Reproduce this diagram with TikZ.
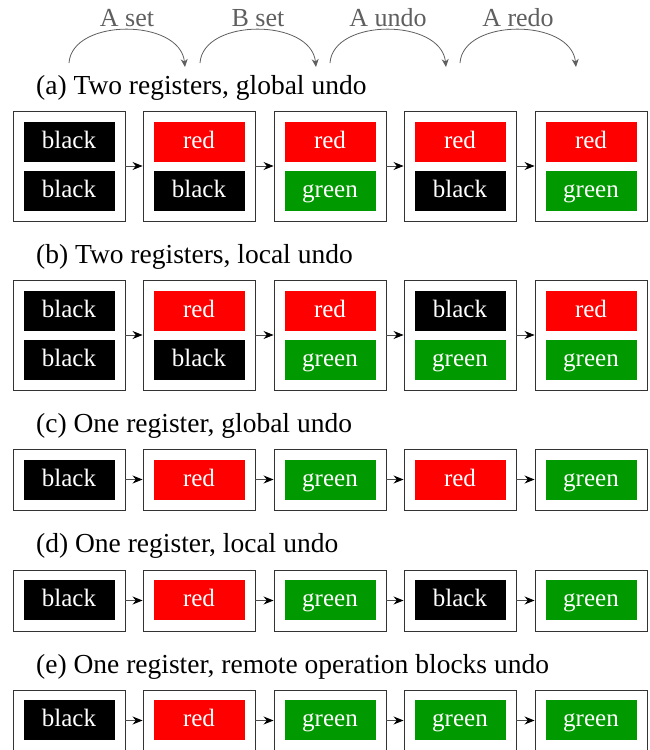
\documentclass[tikz,border=0pt]{standalone}
\usepackage{fontspec}
\setmainfont{Liberation Serif}
\usetikzlibrary{arrows.meta}
\definecolor{reggreen}{RGB}{0,153,0}
\definecolor{regred}{RGB}{255,0,0}
\definecolor{regblack}{RGB}{0,0,0}
\definecolor{capgray}{RGB}{95,95,95}
\begin{document}
\begin{tikzpicture}[x=1pt,y=-1pt,
  font=\fontsize{25}{30}\selectfont,
  outerbox/.style={draw=black!80, line width=0.9pt, minimum width=112pt, inner sep=0pt},
  reg/.style={fill=reg#1, text=white, minimum width=91pt, minimum height=40pt, inner sep=0pt, text height=17pt, text depth=5pt},
  link/.style={draw=black!70, line width=0.9pt, -{Stealth[length=10pt,width=8pt,color=black]}},
  op/.style={draw=capgray, line width=0.8pt, -{Stealth[length=8pt,width=7pt]}},
  oplabel/.style={text=capgray, anchor=base, inner sep=0pt, font=\fontsize{26}{30}\selectfont},
  caption/.style={anchor=base west, inner sep=0pt, font=\fontsize{27.5}{32}\selectfont}
]
\useasboundingbox (0,0) rectangle (649,750);

% operations on top
\foreach \i/\xs/\lab in {1/69/A set,2/200/B set,3/330/A undo,4/460/A redo}{
  \coordinate (s\i) at (\xs,63);
  \coordinate (t\i) at (\xs+116,67);
  \node[oplabel] (l\i) at (\xs+58,26) {\lab};
  \draw[op] (s\i) .. controls (\xs+3,18) and (\xs+111,18) .. (t\i);
}

% captions
\node[caption] (ca) at (36,94) {(a) Two registers, global undo};
\node[caption] (cb) at (36,263) {(b) Two registers, local undo};
\node[caption] (cc) at (36,432) {(c) One register, global undo};
\node[caption] (cd) at (36,552) {(d) One register, local undo};
\node[caption] (ce) at (36,673) {(e) One register, remote operation blocks undo};

% row (a)
\foreach \k/\x/\t/\b in {1/69/black/black,2/199/red/black,3/330/red/green,4/460/red/black,5/591/red/green}{
  \node[outerbox, minimum height=110pt] (a\k) at (\x,166) {};
  \node[reg=\t] (a\k t) at (\x,142) {\t};
  \node[reg=\b] (a\k b) at (\x,191) {\b};
}
% row (b)
\foreach \k/\x/\t/\b in {1/69/black/black,2/199/red/black,3/330/red/green,4/460/black/green,5/591/red/green}{
  \node[outerbox, minimum height=110pt] (b\k) at (\x,335) {};
  \node[reg=\t] (b\k t) at (\x,311) {\t};
  \node[reg=\b] (b\k b) at (\x,360) {\b};
}
% row (c)
\foreach \k/\x/\t in {1/69/black,2/199/red,3/330/green,4/460/red,5/591/green}{
  \node[outerbox, minimum height=61pt] (c\k) at (\x,479.5) {};
  \node[reg=\t] (c\k t) at (\x,480) {\t};
}
% row (d)
\foreach \k/\x/\t in {1/69/black,2/199/red,3/330/green,4/460/black,5/591/green}{
  \node[outerbox, minimum height=61pt] (d\k) at (\x,600.5) {};
  \node[reg=\t] (d\k t) at (\x,600) {\t};
}
% row (e)
\foreach \k/\x/\t in {1/69/black,2/199/red,3/330/green,4/460/green,5/591/green}{
  \node[outerbox, minimum height=61pt] (e\k) at (\x,720.5) {};
  \node[reg=\t] (e\k t) at (\x,720) {\t};
}

% connectors
\foreach \r in {a,b,c,d,e}{
  \foreach \p/\q in {1/2,2/3,3/4,4/5}{
    \draw[link] (\r\p.east) -- (\r\q.west);
  }
}
\end{tikzpicture}
\end{document}
